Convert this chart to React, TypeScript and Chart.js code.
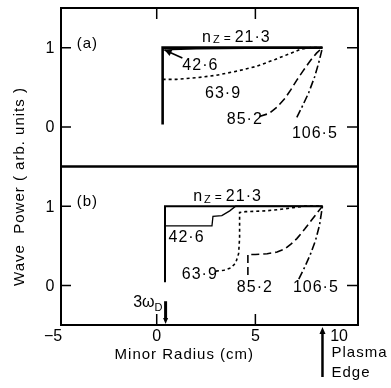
import React, { useEffect, useRef } from "react";
import { Chart, registerables } from "chart.js";

Chart.register(...registerables);

// ---- data: panel (a) ----
const a213X = [0.3, 0.3, 8.4];
const a213Y = [0.03, 1, 1];
const a426X = [0.3, 0.8, 2, 8.4];
const a426Y = [0.97, 0.975, 0.985, 1];
const a639X = [0.3, 1, 2, 3, 4, 5, 6, 6.7, 7.3, 7.8, 8.4];
const a639Y = [0.6, 0.6, 0.62, 0.65, 0.7, 0.76, 0.85, 0.92, 0.98, 1.0, 1.0];
const a852X = [5.2, 5.7, 6.1, 6.5, 6.8, 7.1, 7.4, 7.8, 8.1, 8.4];
const a852Y = [0.13, 0.17, 0.25, 0.36, 0.47, 0.59, 0.7, 0.84, 0.93, 1];
const a1065X = [7.1, 7.4, 7.7, 8.0, 8.2, 8.4];
const a1065Y = [0.12, 0.27, 0.43, 0.63, 0.8, 1];

// ---- data: panel (b) ----
const b213X = [0.42, 0.42, 8.4];
const b213Y = [0.04, 1, 1];
const b426X = [0.42, 2.8, 2.85, 3.3, 3.7, 4.0, 8.4];
const b426Y = [0.75, 0.75, 0.87, 0.88, 0.94, 1.0, 1.0];
const b639X = [3.0, 3.4, 3.75, 4.0, 4.15, 4.2, 4.2, 4.5, 5.5, 6.3, 6.9, 7.5, 8.4];
const b639Y = [0.18, 0.19, 0.22, 0.28, 0.4, 0.6, 0.92, 0.93, 0.94, 0.96, 0.98, 1.0, 1.0];
const b852X = [4.62, 4.62, 5.0, 5.6, 6.1, 6.5, 6.8, 7.1, 7.5, 7.9, 8.4];
const b852Y = [0.13, 0.39, 0.39, 0.4, 0.42, 0.46, 0.52, 0.59, 0.71, 0.84, 1];
const b1065X = [7.2, 7.5, 7.8, 8.05, 8.25, 8.4];
const b1065Y = [0.08, 0.23, 0.4, 0.57, 0.76, 1];

// ---- axes / labels ----
const xTickValues = [-5, 0, 5, 10];
const xTickLabels = ["\u22125", "0", "5", "10"];
const yTickValues = [0, 1];
const yTickLabels = ["0", "1"];
const seriesNames = ["21\u00b73", "42\u00b76", "63\u00b79", "85\u00b72", "106\u00b75"];
const panelNames = ["(a)", "(b)"];
const resonanceX = 0.45;
const plasmaEdgeX = 8.4;

const pts = (xs: number[], ys: number[]) => xs.map((x, i) => ({ x, y: ys[i] }));

const FONT = '"Liberation Sans", Arial, sans-serif';

function arrowHead(ctx: CanvasRenderingContext2D, x1: number, y1: number, x2: number, y2: number, len: number, w: number) {
  const a = Math.atan2(y2 - y1, x2 - x1);
  ctx.beginPath();
  ctx.moveTo(x2, y2);
  ctx.lineTo(x2 - len * Math.cos(a) + w * Math.sin(a), y2 - len * Math.sin(a) - w * Math.cos(a));
  ctx.lineTo(x2 - len * Math.cos(a) - w * Math.sin(a), y2 - len * Math.sin(a) + w * Math.cos(a));
  ctx.closePath();
  ctx.fill();
}

const overlay = {
  id: "overlay",
  afterDraw(chart: any) {
    const ctx: CanvasRenderingContext2D = chart.ctx;
    const xs = chart.scales.x;
    const yA = chart.scales.yA;
    const yB = chart.scales.yB;
    const panels = [yA, yB];
    ctx.save();
    ctx.strokeStyle = "#000";
    ctx.fillStyle = "#000";
    (ctx as any).letterSpacing = "0px";
    // frames
    ctx.lineWidth = 2;
    ctx.setLineDash([]);
    for (const ys of panels) {
      ctx.strokeRect(xs.left, ys.top, xs.right - xs.left, ys.bottom - ys.top);
    }
    // y ticks (inward, both sides)
    ctx.lineWidth = 1.5;
    for (const ys of panels) {
      for (const v of yTickValues) {
        const py = ys.getPixelForValue(v);
        ctx.beginPath();
        ctx.moveTo(xs.left, py); ctx.lineTo(xs.left + 10, py);
        ctx.moveTo(xs.right, py); ctx.lineTo(xs.right - 11, py);
        ctx.stroke();
      }
    }
    // x ticks: top of panel (a), bottom of panel (b)
    for (const v of [0, 5]) {
      const px = xs.getPixelForValue(v);
      ctx.beginPath();
      ctx.moveTo(px, yA.top); ctx.lineTo(px, yA.top + 11);
      ctx.moveTo(px, yB.bottom); ctx.lineTo(px, yB.bottom - 11);
      ctx.stroke();
    }
    // y tick labels
    ctx.font = `16px ${FONT}`;
    ctx.textAlign = "center";
    ctx.textBaseline = "middle";
    for (const ys of panels) {
      yTickValues.forEach((v, i) => {
        ctx.fillText(yTickLabels[i], xs.left - 11, ys.getPixelForValue(v) + 1);
      });
    }
    // x tick labels
    xTickValues.forEach((v, i) => {
      let px = xs.getPixelForValue(v);
      if (i === 0) px -= 5;
      if (i === xTickLabels.length - 1) px -= 15;
      ctx.fillText(xTickLabels[i], px, yB.bottom + 12);
    });
    // panel labels
    ctx.textAlign = "left";
    (ctx as any).letterSpacing = "1px";
    ctx.font = `15px ${FONT}`;
    ctx.fillText(panelNames[0], xs.getPixelForValue(-4.05), yA.getPixelForValue(1.05));
    ctx.fillText(panelNames[1], xs.getPixelForValue(-4.05), yB.getPixelForValue(1.06));

    // series labels
    const drawNz = (ys: any, x: number, y: number) => {
      let px = xs.getPixelForValue(x);
      const py = ys.getPixelForValue(y);
      ctx.font = `16px ${FONT}`;
      ctx.fillText("n", px, py);
      px += ctx.measureText("n").width + 1;
      ctx.font = `11px ${FONT}`;
      ctx.fillText("Z", px, py + 3);
      px += ctx.measureText("Z").width + 3;
      ctx.font = `12px ${FONT}`;
      ctx.fillText("=", px, py + 1);
      px += ctx.measureText("=").width + 3;
      ctx.font = `16px ${FONT}`;
      ctx.fillText(seriesNames[0], px, py);
    };
    drawNz(yA, 2.3, 1.13);
    drawNz(yB, 1.85, 1.12);
    ctx.font = `16px ${FONT}`;
    const lab = (ys: any, t: string, x: number, y: number) =>
      ctx.fillText(t, xs.getPixelForValue(x), ys.getPixelForValue(y));
    lab(yA, seriesNames[1], 1.3, 0.77);
    lab(yA, seriesNames[2], 2.45, 0.42);
    lab(yA, seriesNames[3], 3.55, 0.09);
    lab(yA, seriesNames[4], 6.85, -0.08);
    lab(yB, seriesNames[1], 0.6, 0.6);
    lab(yB, seriesNames[2], 1.27, 0.14);
    lab(yB, seriesNames[3], 4.06, -0.03);
    lab(yB, seriesNames[4], 6.9, -0.03);

    // pointer arrow for 42.6 in (a)
    {
      const x1 = xs.getPixelForValue(1.3), y1 = yA.getPixelForValue(0.87);
      const x2 = xs.getPixelForValue(0.4), y2 = yA.getPixelForValue(0.97);
      ctx.lineWidth = 1.6;
      ctx.beginPath(); ctx.moveTo(x1, y1); ctx.lineTo(x2, y2); ctx.stroke();
      arrowHead(ctx, x1, y1, x2, y2, 7, 3.5);
    }

    // 3 omega_D resonance arrow
    {
      const px = xs.getPixelForValue(resonanceX);
      const top = yB.getPixelForValue(-0.2);
      ctx.lineWidth = 3;
      ctx.beginPath(); ctx.moveTo(px, top); ctx.lineTo(px, yB.bottom - 5); ctx.stroke();
      arrowHead(ctx, px, top, px, yB.bottom - 1, 6, 2.5);
      ctx.textAlign = "right";
      (ctx as any).letterSpacing = "0px";
      ctx.font = `16px ${FONT}`;
      ctx.fillText("3\u03c9", px - 11, top + 1);
      ctx.textAlign = "left";
      ctx.font = `11px ${FONT}`;
      ctx.fillText("D", px - 11, top + 7);
    }

    // plasma edge arrow
    {
      const px = xs.getPixelForValue(plasmaEdgeX);
      ctx.lineWidth = 2.5;
      ctx.beginPath(); ctx.moveTo(px, yB.bottom + 52); ctx.lineTo(px, yB.bottom + 8); ctx.stroke();
      arrowHead(ctx, px, yB.bottom + 52, px, yB.bottom + 2, 7, 3);
      ctx.textAlign = "left";
      (ctx as any).letterSpacing = "1px";
      ctx.font = `15px ${FONT}`;
      ctx.fillText("Plasma", px + 9, yB.bottom + 28);
      ctx.fillText("Edge", px + 9, yB.bottom + 48);
    }

    // axis titles
    ctx.textAlign = "center";
    (ctx as any).letterSpacing = "1px";
    ctx.font = `15px ${FONT}`;
    ctx.fillText("Minor Radius (cm)", xs.getPixelForValue(1.4), yB.bottom + 30);
    ctx.save();
    ctx.translate(20, (yA.top + yB.bottom) / 2 + 20);
    ctx.rotate(-Math.PI / 2);
    ctx.fillText("Wave  Power ( arb. units )", 0, 0);
    ctx.restore();

    ctx.restore();
  },
};

export default function App() {
  const ref = useRef<HTMLCanvasElement | null>(null);
  useEffect(() => {
    document.body.style.margin = "0";
    const canvas = ref.current!;
    const base = { pointRadius: 0, borderColor: "#000", fill: false, tension: 0, showLine: true };
    const chart = new Chart(canvas, {
      type: "line",
      data: {
        datasets: [
          { ...base, data: pts(a213X, a213Y), yAxisID: "yA", borderWidth: 2.6 },
          { ...base, data: pts(a426X, a426Y), yAxisID: "yA", borderWidth: 1.2 },
          { ...base, data: pts(a639X, a639Y), yAxisID: "yA", borderWidth: 1.6, borderDash: [3, 3] },
          { ...base, data: pts(a852X, a852Y), yAxisID: "yA", borderWidth: 1.6, borderDash: [8, 4] },
          { ...base, data: pts(a1065X, a1065Y), yAxisID: "yA", borderWidth: 1.6, borderDash: [8, 3, 2, 3] },
          { ...base, data: pts(b213X, b213Y), yAxisID: "yB", borderWidth: 2 },
          { ...base, data: pts(b426X, b426Y), yAxisID: "yB", borderWidth: 1.3 },
          { ...base, data: pts(b639X, b639Y), yAxisID: "yB", borderWidth: 1.6, borderDash: [3, 3] },
          { ...base, data: pts(b852X, b852Y), yAxisID: "yB", borderWidth: 1.6, borderDash: [8, 4] },
          { ...base, data: pts(b1065X, b1065Y), yAxisID: "yB", borderWidth: 1.6, borderDash: [8, 3, 2, 3] },
        ],
      },
      options: {
        responsive: false,
        animation: false,
        events: [],
        layout: { padding: { left: 61, right: 33, top: 8, bottom: 63 } },
        plugins: { legend: { display: false }, tooltip: { enabled: false } },
        scales: {
          x: {
            type: "linear", min: -4.85, max: 10.2,
            ticks: { display: false }, grid: { display: false }, border: { display: false },
            afterFit: (s: any) => { s.height = 0; },
          },
          yA: {
            type: "linear", position: "left", stack: "panels", stackWeight: 1, weight: 1,
            min: -0.5, max: 1.5,
            ticks: { display: false }, grid: { display: false }, border: { display: false },
            afterFit: (s: any) => { s.width = 0; },
          },
          yB: {
            type: "linear", position: "left", stack: "panels", stackWeight: 1, weight: 0,
            min: -0.5, max: 1.5,
            ticks: { display: false }, grid: { display: false }, border: { display: false },
            afterFit: (s: any) => { s.width = 0; },
          },
        },
      } as any,
      plugins: [overlay],
    });
    return () => chart.destroy();
  }, []);
  return (
    <div style={{ width: 391, height: 388 }}>
      <canvas ref={ref} width={391} height={388} style={{ display: "block" }} />
    </div>
  );
}
